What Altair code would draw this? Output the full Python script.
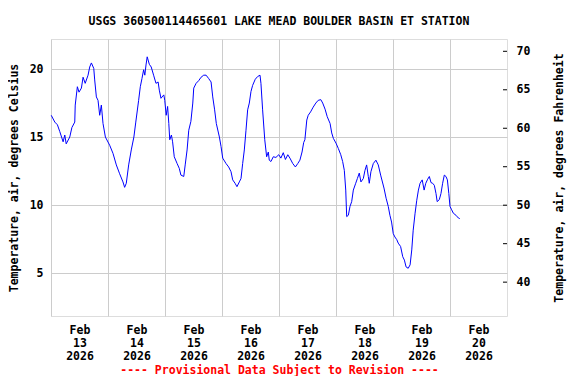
import altair as alt
import pandas as pd

# hours since 2026-02-13 00:00
hours = [0.1, 1.6, 2.7, 3.7, 5.1, 5.8, 6.4, 7.9, 8.8, 10.0, 10.2, 11.1, 11.8, 12.8, 13.5, 14.4, 15.6, 16.3,
         17.0, 18.0, 18.4, 19.1, 19.8, 20.5, 21.2, 21.9, 22.9, 24.7, 26.1, 27.5, 28.9, 30.3, 31.0, 31.7,
         32.7, 33.8, 34.9, 35.7, 36.9, 37.6, 38.3, 39.0, 39.5, 40.0, 40.5, 41.4, 42.2, 43.2, 44.2, 45.1,
         45.6, 46.3, 47.5, 47.9, 48.5, 49.1, 49.6, 50.0, 50.7, 51.2, 51.9, 53.1, 54.0, 54.7, 55.9, 56.5,
         57.3, 58.0, 58.9, 59.7, 60.1, 61.1, 62.2, 63.2, 64.3, 65.3, 66.4, 67.4, 68.1, 68.9, 69.6, 70.9,
         71.6, 72.3, 73.7, 74.8, 75.8, 76.5, 77.5, 78.3, 79.3, 80.0, 80.7, 81.4, 82.1, 82.8, 83.5, 84.2,
         84.9, 86.0, 87.0, 88.0, 88.4, 89.1, 90.0, 90.8, 91.5, 91.9, 92.6, 93.6, 94.7, 95.9, 96.8, 97.8,
         98.7, 99.7, 100.6, 101.8, 102.9, 103.9, 104.8, 105.7, 106.4, 106.9, 107.7, 108.3, 109.3, 110.4,
         111.5, 112.5, 113.6, 114.4, 115.4, 116.3, 117.5, 118.2, 118.9, 120.0, 121.0, 122.0, 122.8, 123.5,
         124.1, 124.5, 125.2, 125.9, 126.6, 127.3, 128.3, 129.0, 129.8, 130.5, 131.5, 132.2, 132.9, 133.6,
         134.0, 134.7, 135.7, 136.8, 137.8, 138.8, 140.2, 141.1, 142.0, 142.7, 143.4, 144.1, 144.8, 145.6,
         146.2, 147.2, 148.1, 148.8, 149.5, 150.4, 151.2, 151.9, 152.5, 153.3, 154.0, 154.7, 155.4, 156.3,
         157.1, 157.8, 158.6, 159.3, 160.0, 160.7, 161.4, 162.1, 162.6, 163.5, 164.2, 164.9, 165.6, 166.3,
         166.9, 167.5, 168.0, 168.7, 169.4, 170.5, 171.5, 172.1]
temp_c = [16.6, 16.1, 15.9, 15.4, 14.65, 15.15, 14.5, 15.0, 15.7, 16.1, 17.35, 18.7, 18.3, 18.6, 19.4, 18.95,
          19.55, 20.15, 20.45, 20.05, 19.2, 17.95, 17.7, 16.6, 17.35, 16.0, 15.0, 14.4, 13.8, 12.95, 12.3,
          11.7, 11.3, 11.6, 12.95, 14.05, 15.0, 16.1, 17.7, 18.7, 19.3, 19.95, 19.55, 20.3, 20.9, 20.35,
          20.15, 19.55, 18.95, 19.05, 18.45, 17.85, 18.1, 17.7, 16.6, 17.25, 16.0, 14.8, 15.15, 14.65, 13.55,
          13.05, 12.7, 12.2, 12.1, 12.95, 14.05, 15.5, 16.15, 17.5, 18.6, 18.95, 19.15, 19.4, 19.55, 19.55,
          19.3, 19.05, 17.95, 17.0, 16.0, 15.0, 14.3, 13.45, 13.05, 12.8, 12.45, 11.85, 11.6, 11.35, 11.7,
          11.95, 13.05, 14.05, 15.5, 17.0, 17.5, 18.35, 18.8, 19.25, 19.45, 19.55, 18.95, 17.0, 14.8, 13.55,
          13.9, 13.3, 13.2, 13.55, 13.5, 13.7, 13.45, 13.85, 13.35, 13.7, 13.45, 13.05, 12.8, 13.05, 13.3,
          13.9, 14.6, 14.8, 16.25, 16.6, 16.85, 17.2, 17.5, 17.7, 17.75, 17.5, 17.05, 16.5, 16.0, 15.3, 14.9,
          14.55, 14.15, 13.7, 13.2, 12.55, 11.1, 9.15, 9.25, 9.9, 10.25, 11.1, 11.6, 11.95, 12.35, 11.7,
          11.95, 12.55, 12.95, 12.1, 11.6, 12.45, 13.05, 13.3, 12.95, 12.2, 11.25, 10.5, 9.9, 9.25, 8.75,
          7.9, 7.65, 7.45, 7.2, 6.95, 6.2, 5.95, 5.45, 5.35, 5.6, 6.7, 8.15, 9.4, 10.35, 11.1, 11.6, 11.85,
          11.1, 11.6, 11.9, 12.1, 11.65, 11.6, 11.45, 10.85, 10.25, 10.4, 10.85, 11.6, 12.2, 12.1, 11.85,
          10.85, 9.9, 9.65, 9.4, 9.25, 9.05, 9.0]

x_tick_hours = [0, 24, 48, 72, 96, 120, 144, 168]
c_ticks = [5, 10, 15, 20]
f_ticks = [40, 45, 50, 55, 60, 65, 70]

df = pd.DataFrame({"hours": hours, "temp_c": temp_c})
ft = pd.DataFrame({"f": f_ticks})

FONT = "DejaVu Sans Mono"
FS = 11.5
W, H = 456, 277

x_enc = alt.X(
    "hours:Q",
    scale=alt.Scale(domain=[0, 192], nice=False, zero=False),
    axis=alt.Axis(
        values=x_tick_hours,
        labelExpr="['Feb', format(13 + datum.value / 24, 'd'), '2026']",
        labelOffset=28.5,
        grid=True, gridColor="#CCCCCC", gridWidth=1,
        ticks=False, domain=False,
        labelFont=FONT, labelFontSize=FS, labelFontWeight="bold", labelColor="black",
        labelPadding=8, labelLineHeight=13, labelBaseline="top",
        labelOverlap=False, labelBound=False, labelFlush=False,
        title="---- Provisional Data Subject to Revision ----",
        titleColor="#FF0000", titleFont=FONT, titleFontSize=FS, titleFontWeight="bold",
        titlePadding=3,
    ),
)

line = alt.Chart(df).mark_line(color="#0000FF", strokeWidth=1).encode(
    x=x_enc,
    y=alt.Y(
        "temp_c:Q",
        scale=alt.Scale(domain=[1.84, 22.21], nice=False, zero=False),
        axis=alt.Axis(
            orient="left", values=c_ticks, grid=True, gridColor="#CCCCCC", gridWidth=1,
            ticks=False, domain=False,
            labelFont=FONT, labelFontSize=FS, labelFontWeight="bold", labelColor="black",
            labelPadding=8,
            title="Temperature, air, degrees Celsius",
            titleFont=FONT, titleFontSize=FS, titleFontWeight="bold", titleColor="black",
            titlePadding=10,
        ),
    ),
)

rticks = alt.Chart(ft).mark_rule(color="black", strokeWidth=1).encode(
    y=alt.Y(
        "f:Q",
        scale=alt.Scale(domain=[35.6, 71.6], nice=False, zero=False),
        axis=alt.Axis(
            orient="right", values=f_ticks, grid=False, ticks=False, domain=False,
            labelFont=FONT, labelFontSize=FS, labelFontWeight="bold", labelColor="black",
            labelPadding=9,
            title="Temperature, air, degrees Fahrenheit",
            titleFont=FONT, titleFontSize=FS, titleFontWeight="bold", titleColor="black",
            titleAngle=270, titleBaseline="top",
            titlePadding=24,
        ),
    ),
    x=alt.value(W - 4),
    x2=alt.value(W),
)

chart = (
    alt.layer(line, rticks)
    .resolve_scale(y="independent")
    .properties(
        width=W,
        height=H,
        autosize=alt.AutoSizeParams(type="none"),
        padding={"left": 43, "top": 31, "right": 61, "bottom": 60},
        title=alt.Title(
            "USGS 360500114465601 LAKE MEAD BOULDER BASIN ET STATION",
            font=FONT, fontSize=FS, fontWeight="bold", color="black",
            anchor="middle", frame="group", offset=12,
        ),
    )
    .configure_view(stroke="black", strokeWidth=1)
    .configure(background="white")
)

chart.save("out.html", embed_options={"renderer": "svg", "actions": False})
